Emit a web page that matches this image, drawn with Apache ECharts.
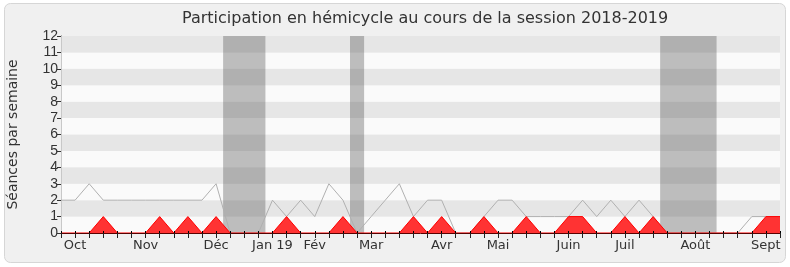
<!DOCTYPE html>
<html>
<head>
<meta charset="utf-8">
<script src="https://cdn.jsdelivr.net/npm/echarts@6/dist/echarts.min.js"></script>
<style>
  html, body { margin: 0; padding: 0; background: #ffffff; }
  #chart { width: 790px; height: 267px; }
</style>
</head>
<body>
<div id="chart"></div>
<script>
// Weekly attendance, session 2018-2019 (week 0 = first week shown)
const weekCount = 52;

// Sessions held in the chamber each week
const totalSessions = [2, 2, 3, 2, 2, 2, 2, 2, 2, 2, 2, 3, 0, 0, 0, 2, 1, 2, 1, 3,
                       2, 0, 1, 2, 3, 1, 2, 2, 0, 0, 1, 2, 2, 1, 1, 1, 1, 2, 1, 2,
                       1, 2, 1, 0, 0, 0, 0, 0, 0, 1, 1, 1];

// Sessions attended by the deputy each week
const attended = [0, 0, 0, 1, 0, 0, 0, 1, 0, 1, 0, 1, 0, 0, 0, 0, 1, 0, 0, 0,
                  1, 0, 0, 0, 0, 1, 0, 1, 0, 0, 1, 0, 0, 1, 0, 0, 1, 1, 0, 0,
                  1, 0, 1, 0, 0, 0, 0, 0, 0, 0, 1, 1];

// Month labels and the week they sit on
const monthLabels = ['Oct', 'Nov', 'Déc', 'Jan 19', 'Fév', 'Mar', 'Avr', 'Mai', 'Juin', 'Juil', 'Août', 'Sept'];
const monthWeeks = [1, 6, 11, 15, 18, 22, 27, 31, 36, 40, 45, 50];

// Parliamentary recesses (start week, end week)
const recessStart = [11.5, 20.5, 42.5];
const recessEnd = [14.5, 21.5, 46.5];

const yTicks = [0, 12];

const weekIdx = Array.from({ length: weekCount }, (_, i) => i);
const labelByWeek = {};
monthWeeks.forEach((w, i) => { labelByWeek[w] = monthLabels[i]; });

const chart = echarts.init(document.getElementById('chart'), null, { renderer: 'canvas' });

const option = {
  backgroundColor: '#ffffff',
  animation: false,
  graphic: [{
    type: 'rect',
    z: -100,
    silent: true,
    shape: { x: 4.5, y: 3.5, width: 781, height: 259, r: 6 },
    style: { fill: '#f0f0f0', stroke: '#d6d6d6', lineWidth: 1 }
  }],
  title: {
    text: 'Participation en hémicycle au cours de la session 2018-2019',
    left: 182,
    top: 11,
    padding: 0,
    textStyle: { fontFamily: 'DejaVu Sans', fontSize: 16, fontWeight: 'normal', color: '#333333' }
  },
  grid: { left: 61, right: 10, top: 36, bottom: 34, containLabel: false, outerBoundsMode: 'none' },
  xAxis: [{
    type: 'value',
    min: 0,
    max: weekCount - 1,
    interval: 1,
    z: 10,
    axisLine: { show: true, onZero: false, lineStyle: { color: '#5a0000', width: 1 } },
    axisTick: { show: true, length: 5, lineStyle: { color: '#222222' } },
    axisLabel: {
      show: true,
      margin: 6,
      fontFamily: 'DejaVu Sans',
      fontSize: 13,
      color: '#333333',
      showMinLabel: true,
      showMaxLabel: true,
      formatter: v => labelByWeek[v] || ''
    },
    splitLine: { show: false }
  }, {
    type: 'value',
    position: 'top',
    min: 0,
    max: weekCount - 1,
    interval: 1,
    z: 10,
    axisLine: { show: false },
    axisTick: { show: true, length: 2, lineStyle: { color: '#000000' } },
    axisLabel: { show: false },
    splitLine: { show: false }
  }],
  yAxis: [{
    type: 'value',
    min: yTicks[0],
    max: yTicks[1],
    interval: 1,
    name: 'Séances par semaine',
    nameLocation: 'middle',
    nameGap: 41,
    nameTextStyle: { fontFamily: 'DejaVu Sans', fontSize: 14, color: '#333333' },
    axisLine: { show: true, lineStyle: { color: '#333333' } },
    axisTick: { show: true, length: 4, lineStyle: { color: '#333333' } },
    axisLabel: { margin: 3, fontFamily: 'Liberation Sans', fontSize: 14, color: '#333333' },
    splitLine: { show: false },
    splitArea: { show: true, areaStyle: { color: ['#fafafa', '#e6e6e6'] } }
  }, {
    type: 'value',
    position: 'right',
    min: yTicks[0],
    max: yTicks[1],
    interval: 1,
    axisLine: { show: true, lineStyle: { color: '#c8c8c8' } },
    axisTick: { show: false },
    axisLabel: { show: false },
    splitLine: { show: false }
  }],
  series: [{
    name: 'Séances',
    type: 'line',
    data: weekIdx.map(i => [i, totalSessions[i]]),
    showSymbol: false,
    symbol: 'none',
    lineStyle: { color: '#b0b0b0', width: 1 },
    z: 3,
    markArea: {
      silent: true,
      itemStyle: { color: 'rgba(90,90,90,0.38)' },
      data: recessStart.map((s, i) => [{ xAxis: s }, { xAxis: recessEnd[i] }])
    }
  }, {
    name: 'Présences',
    type: 'line',
    data: weekIdx.map(i => [i, attended[i]]),
    showSymbol: false,
    symbol: 'none',
    lineStyle: { color: '#ff0000', width: 1 },
    areaStyle: { color: '#ff3333', opacity: 1 },
    z: 4
  }]
};

chart.setOption(option);
</script>
</body>
</html>
